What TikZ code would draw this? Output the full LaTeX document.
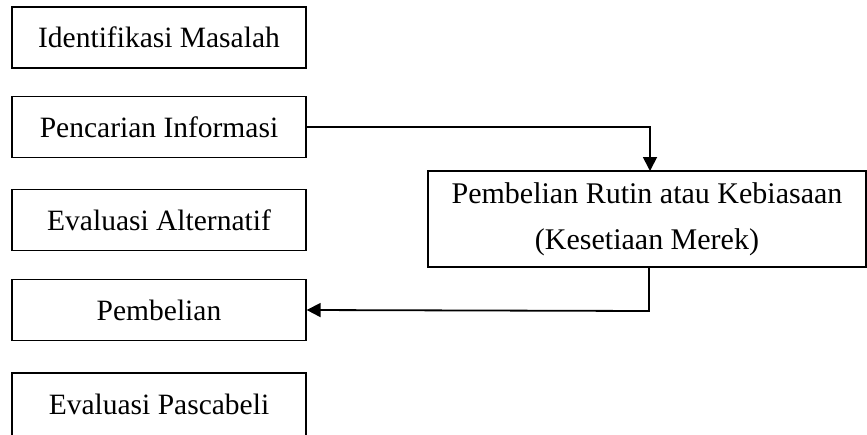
\documentclass[tikz,border=0pt]{standalone}
\usepackage{fontspec}
\setmainfont{Liberation Serif}
\usetikzlibrary{arrows.meta}
\begin{document}
\begin{tikzpicture}[x=1pt,y=-1pt,
  lbox/.style={draw,line width=1.3pt,minimum width=294pt,minimum height=61pt,inner sep=0pt,font=\fontsize{29.5}{34}\selectfont},
  rbox/.style={draw,line width=1.3pt,minimum width=438pt,minimum height=96pt,inner sep=0pt,align=center,font=\fontsize{30}{46}\selectfont},
  conn/.style={line width=1.8pt,-{Triangle[length=14pt,width=14pt]}}]
\useasboundingbox (0,0) rectangle (867,434);
\node[lbox] (b1) at (159,37.5) {Identifikasi Masalah};
\node[lbox] (b2) at (159,127) {Pencarian Informasi};
\node[lbox] (b3) at (159,220) {Evaluasi Alternatif};
\node[lbox] (b4) at (159,310) {Pembelian};
\node[font=\fontsize{29.5}{34}\selectfont,inner sep=0pt] (b5) at (159,404) {Evaluasi Pascabeli};
\draw[line width=1.3pt] (12,440) -- (12,373) -- (306,373) -- (306,440);
\node[rbox] (r) at (647,219) {Pembelian Rutin atau Kebiasaan\\(Kesetiaan Merek)};
\draw[conn] (b2.east) -- (650,127) -- (650,171);
\draw[conn] (649,267) -- (649,311) -- (b4.east);
\end{tikzpicture}
\end{document}
